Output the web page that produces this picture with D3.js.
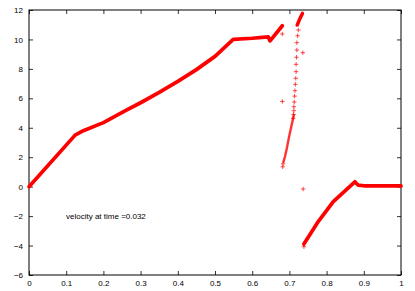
<!DOCTYPE html>
<html>
<head>
<meta charset="utf-8">
<script src="https://cdn.jsdelivr.net/npm/d3@7"></script>
<style>
  html, body { margin: 0; padding: 0; background: #fff; }
  svg { display: block; font-family: "Liberation Sans", Arial, sans-serif; }
</style>
</head>
<body>
<div id="chart"></div>
<script>
// velocity profile
const xTicks = [0, 0.1, 0.2, 0.3, 0.4, 0.5, 0.6, 0.7, 0.8, 0.9, 1];
const yTicks = [-6, -4, -2, 0, 2, 4, 6, 8, 10, 12];

// dense runs (markers so close they merge into a band)
const rampLeft = [[0, 0], [0.124, 3.5], [0.146, 3.8], [0.2, 4.35], [0.258, 5.14], [0.3, 5.7],
  [0.35, 6.4], [0.4, 7.15], [0.45, 7.95], [0.5, 8.85], [0.549, 10.0], [0.6, 10.08],
  [0.643, 10.18], [0.648, 9.9], [0.681, 10.93]];
const bandTop = [[0.721, 10.98], [0.728, 11.4], [0.735, 11.77]];
const bandLow = [[0.712, 4.87], [0.700, 3.5], [0.693, 2.6], [0.688, 2.03], [0.684, 1.69]];
const rampRight = [[0.739, -3.9], [0.778, -2.35], [0.818, -1.02], [0.876, 0.33], [0.885, 0.1],
  [0.9, 0.06], [1.0, 0.05]];

// isolated markers
const scatter = [[0.724, 10.64], [0.722, 10.25], [0.720, 9.78], [0.720, 9.28], [0.719, 8.79],
  [0.718, 8.31], [0.718, 7.81], [0.717, 7.36], [0.716, 6.95], [0.715, 6.52], [0.714, 6.15],
  [0.713, 5.75], [0.712, 5.43], [0.712, 5.16], [0.711, 4.91], [0.710, 4.64],
  [0.681, 10.37], [0.736, 9.1], [0.681, 5.79], [0.737, -0.16], [0.682, 1.35], [0.683, 1.55],
  [0.739, -4.08]];

const label = 'velocity at time =0.032';

const width = 415, height = 291;
const margin = { top: 10, right: 14, bottom: 16, left: 29 };

const svg = d3.select('#chart').append('svg')
  .attr('width', width)
  .attr('height', height);

const x = d3.scaleLinear().domain([0, 1]).range([margin.left, width - margin.right]);
const y = d3.scaleLinear().domain([-6, 12]).range([height - margin.bottom, margin.top]);

const red = '#ff0000';
const tickLen = 4;

// axes, ticks pointing inward and mirrored
const axisBottom = d3.axisBottom(x).tickValues(xTicks).tickFormat(d3.format('')).tickSize(-tickLen).tickPadding(5);
const axisTop = d3.axisTop(x).tickValues(xTicks).tickFormat('').tickSize(-tickLen);
const axisLeft = d3.axisLeft(y).tickValues(yTicks).tickFormat(d3.format('')).tickSize(-tickLen).tickPadding(6);
const axisRight = d3.axisRight(y).tickValues(yTicks).tickFormat('').tickSize(-tickLen);

function styleAxis(g) {
  g.select('.domain').remove();
  g.selectAll('line').attr('stroke', '#333').attr('stroke-width', 1);
  g.selectAll('text').attr('fill', '#000').style('font-size', '8px');
}

svg.append('g').attr('transform', `translate(0,${height - margin.bottom})`).call(axisBottom).call(styleAxis);
svg.append('g').attr('transform', `translate(0,${margin.top})`).call(axisTop).call(styleAxis);
svg.append('g').attr('transform', `translate(${margin.left},0)`).call(axisLeft).call(styleAxis);
svg.append('g').attr('transform', `translate(${width - margin.right},0)`).call(axisRight).call(styleAxis);

svg.append('rect')
  .attr('x', x(0)).attr('y', y(12))
  .attr('width', x(1) - x(0)).attr('height', y(-6) - y(12))
  .attr('fill', 'none').attr('stroke', '#000').attr('stroke-width', 1);

svg.append('text')
  .attr('x', 66).attr('y', 218.5)
  .style('font-size', '8px')
  .attr('fill', '#000')
  .text(label);

const line = d3.line().x(d => x(d[0])).y(d => y(d[1]));

const plot = svg.append('g');

[[rampLeft, 3.7], [bandTop, 3.5], [rampRight, 3.7]].forEach(([pts, w]) => {
  plot.append('path')
    .attr('d', line(pts))
    .attr('fill', 'none')
    .attr('stroke', red)
    .attr('stroke-width', w)
    .attr('stroke-linejoin', 'round')
    .attr('stroke-linecap', 'round');
});

plot.append('path')
  .attr('d', line(bandLow))
  .attr('fill', 'none')
  .attr('stroke', red)
  .attr('stroke-width', 2.4)
  .attr('stroke-opacity', 0.8)
  .attr('stroke-linecap', 'round');

const s = 2.2;
plot.selectAll('path.mark')
  .data(scatter)
  .join('path')
  .attr('class', 'mark')
  .attr('d', d => `M${x(d[0]) - s},${y(d[1])}h${2 * s}M${x(d[0])},${y(d[1]) - s}v${2 * s}`)
  .attr('stroke', red)
  .attr('stroke-opacity', 0.7)
  .attr('stroke-width', 1);
</script>
</body>
</html>
